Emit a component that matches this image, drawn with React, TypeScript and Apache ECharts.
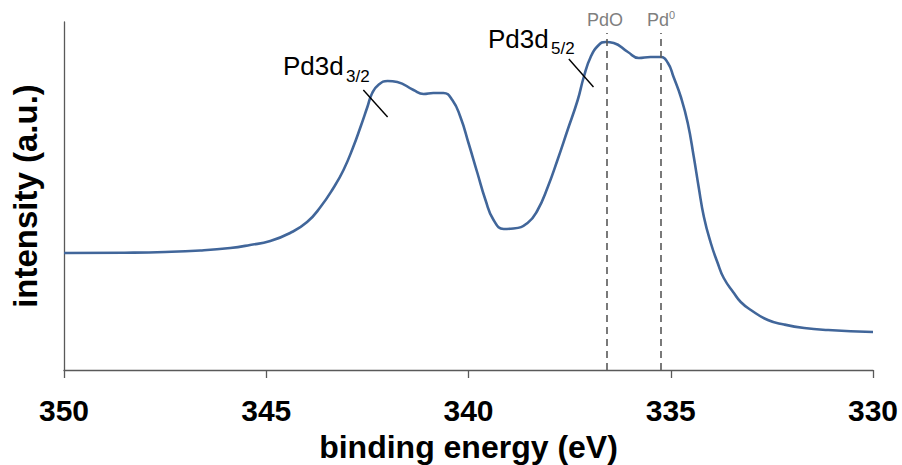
import React, { useEffect, useRef } from "react";
import * as echarts from "echarts";

// binding energy (eV) and intensity (a.u.)
const energy = [
  350.0, 348.5, 347.5, 346.63, 345.89, 345.4, 344.9, 344.41, 343.99, 343.66, 343.34,
  343.09, 342.85, 342.67, 342.5, 342.38, 342.23, 342.0, 341.76, 341.36, 341.11,
  340.87, 340.62, 340.4, 340.2, 340.0, 339.78, 339.58, 339.38, 339.13, 338.89,
  338.54, 338.29, 338.04, 337.8, 337.55, 337.3, 337.15, 336.98, 336.78, 336.61,
  336.41, 336.06, 335.79, 335.5, 335.25, 335.07, 334.93, 334.75, 334.58, 334.43,
  334.31, 334.18, 334.01, 333.84, 333.69, 333.44, 333.27, 333.02, 332.6,
  332.2, 331.7, 331.11, 330.0,
];
const intensity = [
  117, 117.3, 118, 119.5, 122, 125, 129, 137, 148, 163, 182,
  200, 223, 243, 263, 277, 285, 289, 288, 280, 276,
  277, 277, 270, 253, 227, 197, 170, 150, 141, 141.5,
  147, 160, 183, 210, 240, 270, 293, 313, 325, 328,
  327, 318, 312, 313, 313, 307, 293, 273, 247, 213,
  183, 153, 127, 107, 92, 77, 68, 60, 50,
  45.5, 42, 40, 38,
];

const xTicks = [350, 345, 340, 335, 330];

// reference positions (eV)
const refLines = [
  { name: "PdO", energy: 336.58 },
  { name: "Pd0", energy: 335.25 },
];
const refLineTop = 337;

// leader lines for the peak labels: [eV, intensity] start and end
const leaderLines = [
  [[342.6, 280], [342.0, 253]],
  [[337.52, 311], [336.91, 283]],
];

const FONT = "'Liberation Sans', Arial, sans-serif";

export default function App() {
  const ref = useRef<HTMLDivElement>(null);

  useEffect(() => {
    if (!ref.current) return;
    const chart = echarts.init(ref.current, undefined, { renderer: "svg" });

    const data = energy.map((e, i) => [e, intensity[i]]);

    const markData: any[] = [];
    refLines.forEach((r) => {
      markData.push([
        {
          coord: [r.energy, 0],
          lineStyle: { color: "#595959", width: 1.6, type: [7, 5] },
        },
        { coord: [r.energy, refLineTop] },
      ]);
    });
    leaderLines.forEach((l) => {
      markData.push([
        {
          coord: l[0],
          lineStyle: { color: "#000", width: 1.4, type: "solid" },
        },
        { coord: l[1] },
      ]);
    });

    const txt = (
      text: string,
      x: number,
      y: number,
      size: number,
      color: string,
      align: string = "left"
    ) => ({
      type: "text",
      x,
      y,
      silent: true,
      style: {
        text,
        fill: color,
        fontSize: size,
        fontFamily: FONT,
        fontWeight: "normal",
        align,
        verticalAlign: "middle",
      },
    });

    chart.setOption({
      animation: false,
      backgroundColor: "#fff",
      grid: {
        left: 64,
        right: 29,
        top: 22,
        bottom: 95,
        containLabel: false,
        outerBoundsMode: "none",
      },
      xAxis: {
        type: "value",
        inverse: true,
        min: 330,
        max: 350,
        interval: 5,
        name: "binding energy (eV)",
        nameLocation: "middle",
        nameGap: 61,
        nameTextStyle: {
          fontFamily: FONT,
          fontWeight: "bold",
          fontSize: 32,
          lineHeight: 32,
          color: "#000",
        },
        axisLine: { show: true, lineStyle: { color: "#595959", width: 1.3 } },
        axisTick: {
          show: true,
          inside: false,
          length: 8,
          lineStyle: { color: "#595959", width: 1.3 },
        },
        axisLabel: {
          margin: 25,
          fontFamily: FONT,
          fontWeight: "bold",
          fontSize: 30,
          color: "#000",
          formatter: (v: number) => (xTicks.includes(v) ? String(v) : ""),
        },
        splitLine: { show: false },
      },
      yAxis: {
        type: "value",
        min: 0,
        max: 348,
        name: "intensity (a.u.)",
        nameLocation: "middle",
        nameGap: 22,
        nameTextStyle: {
          fontFamily: FONT,
          fontWeight: "bold",
          fontSize: 33,
          color: "#000",
        },
        axisLine: { show: true, lineStyle: { color: "#595959", width: 1.3 } },
        axisTick: { show: false },
        axisLabel: { show: false },
        splitLine: { show: false },
      },
      series: [
        {
          type: "line",
          data,
          smooth: 0.5,
          symbol: "none",
          lineStyle: { color: "#41669a", width: 2.6 },
          markLine: {
            silent: true,
            symbol: ["none", "none"],
            label: { show: false },
            emphasis: { disabled: true },
            data: markData,
          },
        },
      ],
      graphic: [
        txt("Pd3d", 283, 66, 26, "#000"),
        txt("3/2", 346, 76, 17, "#000"),
        txt("Pd3d", 488, 39, 26, "#000"),
        txt("5/2", 551, 48, 17, "#000"),
        txt("PdO", 605, 20, 18, "#7f7f7f", "center"),
        txt("Pd", 647, 20, 18, "#7f7f7f"),
        txt("0", 669, 15, 11, "#7f7f7f"),
      ],
    });

    return () => chart.dispose();
  }, []);

  return (
    <div
      ref={ref}
      style={{
        position: "fixed",
        left: 0,
        top: 0,
        width: 902,
        height: 465,
        background: "#fff",
      }}
    />
  );
}
